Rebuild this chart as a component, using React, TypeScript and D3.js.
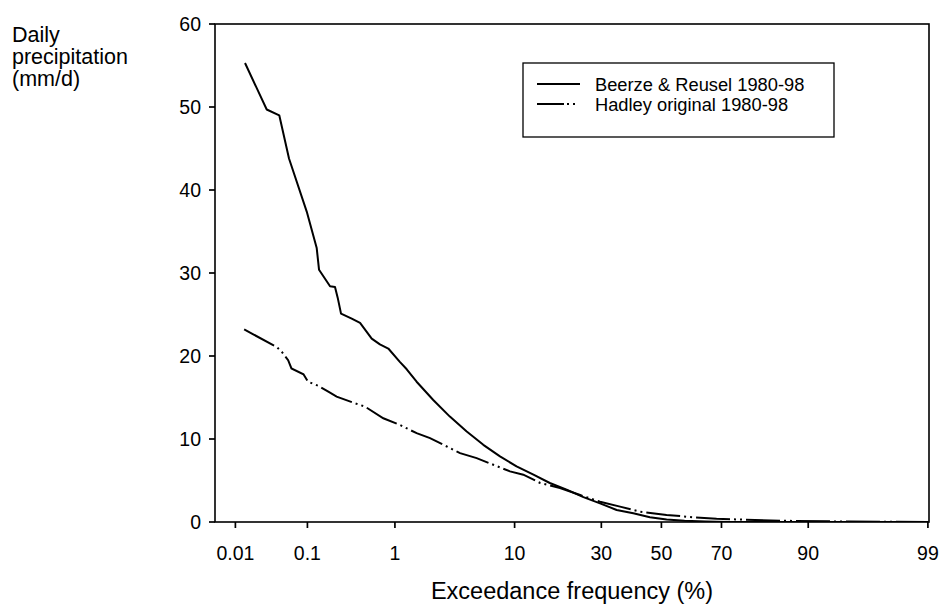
import React from "react";
import * as d3 from "d3";

// ---- data (exceedance frequency in %, precipitation in mm/d) ----
const beerzeFreq = [0.0139, 0.0285, 0.0425, 0.0575, 0.098, 0.131, 0.14, 0.191, 0.219, 0.236, 0.258, 0.343, 0.426, 0.572, 0.7, 0.856, 1.12, 1.31, 1.63, 2.32, 3.24, 4.46, 6.0, 7.94, 10.3, 13.2, 16.5, 20.4, 24.8, 29.6, 34.8, 40.3, 46.0, 51.8, 58, 65, 72, 80, 90, 99];
const beerzeValue = [55.3, 49.7, 49.0, 43.8, 37.4, 33.0, 30.4, 28.4, 28.3, 27.0, 25.1, 24.5, 24.0, 22.1, 21.4, 20.9, 19.3, 18.4, 16.9, 14.7, 12.7, 10.9, 9.3, 7.9, 6.7, 5.7, 4.7, 3.9, 3.0, 2.25, 1.45, 1.05, 0.57, 0.3, 0.15, 0.05, 0, 0, 0, 0];

const hadleyFreq = [0.0135, 0.039, 0.046, 0.056, 0.062, 0.089, 0.102, 0.137, 0.182, 0.229, 0.374, 0.483, 0.76, 1.12, 1.63, 2.17, 2.85, 3.94, 5.34, 7.11, 9.31, 11.4, 14.5, 18.8, 23.9, 29.6, 35.9, 42.6, 51.8, 61.0, 68.5, 75, 85, 95, 99];
const hadleyValue = [23.2, 21.1, 20.5, 19.5, 18.5, 17.8, 16.9, 16.4, 15.7, 15.1, 14.3, 13.9, 12.5, 11.7, 10.7, 10.1, 9.3, 8.3, 7.7, 6.9, 6.1, 5.7, 4.7, 4.1, 3.25, 2.45, 1.85, 1.25, 0.85, 0.57, 0.4, 0.3, 0.15, 0.05, 0];

const xTicks = [0.01, 0.1, 1, 10, 30, 50, 70, 90, 99];
const yTicks = [0, 10, 20, 30, 40, 50, 60];
const seriesNames = ["Beerze & Reusel 1980-98", "Hadley original 1980-98"];
const yTitleLines = ["Daily", "precipitation", "(mm/d)"];
const xTitle = "Exceedance frequency (%)";

// inverse normal CDF (Acklam)
function probit(p: number): number {
  const a = [-3.969683028665376e1, 2.209460984245205e2, -2.759285104469687e2, 1.38357751867269e2, -3.066479806614716e1, 2.506628277459239];
  const b = [-5.447609879822406e1, 1.615858368580409e2, -1.556989798598866e2, 6.680131188771972e1, -1.328068155288572e1];
  const c = [-7.784894002430293e-3, -3.223964580411365e-1, -2.400758277161838, -2.549732539343734, 4.374664141464968, 2.938163982698783];
  const d = [7.784695709041462e-3, 3.224671290700398e-1, 2.445134137142996, 3.754408661907416];
  const plow = 0.02425;
  if (p < plow) {
    const q = Math.sqrt(-2 * Math.log(p));
    return (((((c[0] * q + c[1]) * q + c[2]) * q + c[3]) * q + c[4]) * q + c[5]) / ((((d[0] * q + d[1]) * q + d[2]) * q + d[3]) * q + 1);
  }
  if (p > 1 - plow) {
    const q = Math.sqrt(-2 * Math.log(1 - p));
    return -(((((c[0] * q + c[1]) * q + c[2]) * q + c[3]) * q + c[4]) * q + c[5]) / ((((d[0] * q + d[1]) * q + d[2]) * q + d[3]) * q + 1);
  }
  const q = p - 0.5;
  const r = q * q;
  return ((((((a[0] * r + a[1]) * r + a[2]) * r + a[3]) * r + a[4]) * r + a[5]) * q) / (((((b[0] * r + b[1]) * r + b[2]) * r + b[3]) * r + b[4]) * r + 1);
}

const W = 941;
const H = 605;
const left = 215;
const right = 929;
const top = 24;
const bottom = 522;
const zLo = -3.897;
const zHi = 2.336;
const FONT = "'Liberation Sans', Arial, sans-serif";

export default function App() {
  const zx = d3.scaleLinear().domain([zLo, zHi]).range([left, right]);
  const x = (pct: number) => zx(probit(pct / 100));
  const y = d3.scaleLinear().domain([0, 60]).range([bottom, top]);

  const line = d3
    .line<[number, number]>()
    .x((d) => x(d[0]))
    .y((d) => y(d[1]));

  const beerze = beerzeFreq.map((f, i) => [f, beerzeValue[i]] as [number, number]);
  const hadley = hadleyFreq.map((f, i) => [f, hadleyValue[i]] as [number, number]);
  const dashPattern = "34,4,2,4,2,4";

  const legX = 523;
  const legY = 63;
  return (
    <svg width={W} height={H} style={{ position: "absolute", left: 0, top: 0, background: "#fff" }} fontFamily={FONT}>
      <rect x={0} y={0} width={W} height={H} fill="#fff" />
      <defs>
        <clipPath id="plotclip">
          <rect x={left} y={top} width={right - left} height={bottom - top} />
        </clipPath>
      </defs>
      <g clipPath="url(#plotclip)">
        <path d={line(beerze) || ""} fill="none" stroke="#000" strokeWidth={2} strokeLinejoin="round" />
        <path d={line(hadley) || ""} fill="none" stroke="#000" strokeWidth={2} strokeDasharray={dashPattern} />
      </g>
      {/* frame */}
      <rect x={left} y={top} width={right - left} height={bottom - top} fill="none" stroke="#000" strokeWidth={1.6} />
      {yTicks.map((t) => (
        <g key={"y" + t}>
          <line x1={left - 6} x2={left} y1={y(t)} y2={y(t)} stroke="#000" strokeWidth={1.7} />
          <text x={left - 14} y={y(t)} dy="0.36em" textAnchor="end" fontSize={19.5}>
            {t}
          </text>
        </g>
      ))}
      {xTicks.map((t) => (
        <g key={"x" + t}>
          <line x1={x(t)} x2={x(t)} y1={bottom} y2={bottom + 6} stroke="#000" strokeWidth={1.7} />
          <text x={x(t)} y={553} dy="0.36em" textAnchor="middle" fontSize={19.5}>
            {t}
          </text>
        </g>
      ))}
      <text x={572} y={591} dy="0.36em" textAnchor="middle" fontSize={23.5}>
        {xTitle}
      </text>
      {yTitleLines.map((s, i) => (
        <text key={s} x={12} y={34 + i * 22} dy="0.36em" fontSize={21.5}>
          {s}
        </text>
      ))}
      {/* legend */}
      <rect x={legX} y={legY} width={311} height={74} fill="#fff" stroke="#000" strokeWidth={1.3} />
      <line x1={537} x2={580} y1={84} y2={84} stroke="#000" strokeWidth={1.8} />
      <line x1={537} x2={580} y1={104} y2={104} stroke="#000" strokeWidth={1.8} strokeDasharray="27,3,2,4,2,5" />
      {seriesNames.map((s, i) => (
        <text key={s} x={595} y={84 + i * 20} dy="0.36em" fontSize={18.3}>
          {s}
        </text>
      ))}
    </svg>
  );
}
